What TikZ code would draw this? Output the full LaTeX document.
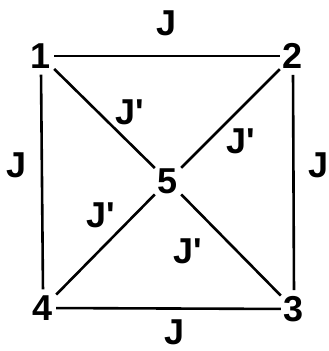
\documentclass[tikz,border=0pt]{standalone}
\usepackage{fontspec}
\setmainfont{Liberation Sans}[Ligatures=TeXOff]
\begin{document}
\begin{tikzpicture}[x=1pt,y=1pt,
  site/.style={font=\fontsize{36}{36}\selectfont\bfseries, inner sep=3pt},
  lab/.style={font=\fontsize{36}{36}\selectfont\bfseries, inner sep=0pt},
  bond/.style={line width=2.6pt}]
\useasboundingbox (0,0) rectangle (329,351);
\node[site] (n1) at (41,295) {1};
\node[site] (n2) at (293,295) {2};
\node[site] (n3) at (294,42) {3};
\node[site] (n4) at (43,43) {4};
\node[site] (n5) at (168,170) {5};
\draw[bond] (n1) -- (n2);
\draw[bond] (n4) -- (n3);
\draw[bond, shorten <=3pt, shorten >=3pt] (n1.south) -- (n4.north);
\draw[bond, shorten <=3pt, shorten >=3pt] (n2.south) -- (n3.north);
\draw[bond] (n1) -- (n5);
\draw[bond] (n2) -- (n5);
\draw[bond] (n5) -- (n4);
\draw[bond] (n5) -- (n3);
\node[lab] (jt) at (167,328) {J};
\node[lab] (jl) at (17,186) {J};
\node[lab] (jr) at (319,186) {J};
\node[lab] (jb) at (175,19) {J};
\node[lab] (ja) at (130,239) {J'};
\node[lab] (jbb) at (241,210) {J'};
\node[lab] (jc) at (101,136) {J'};
\node[lab] (jd) at (188,100) {J'};
\end{tikzpicture}
\end{document}
